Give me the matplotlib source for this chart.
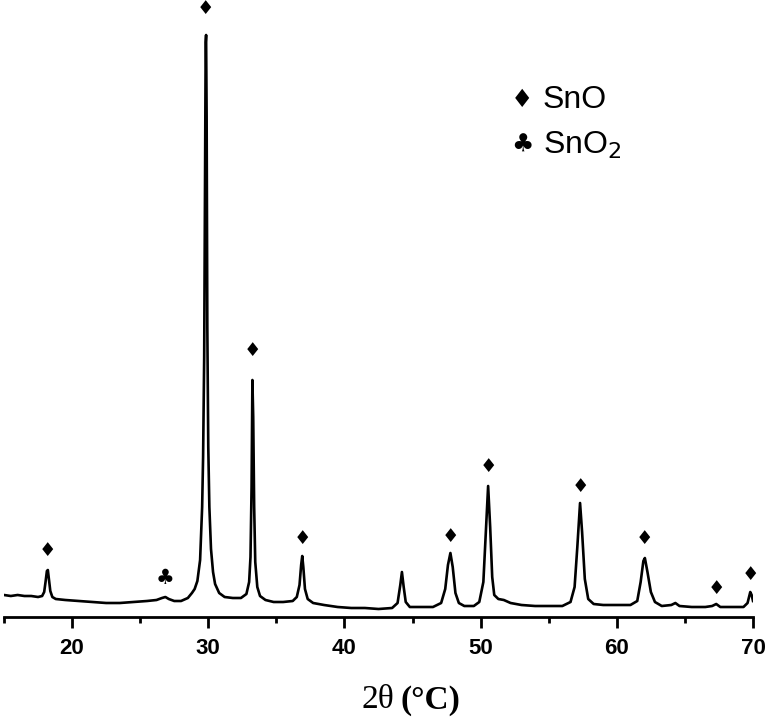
import numpy as np
import matplotlib
matplotlib.use('Agg')
import matplotlib.pyplot as plt

# XRD trace (2theta, intensity in arbitrary units)
two_theta = [15.0, 15.5, 16.0, 16.5, 17.0, 17.5, 17.8, 17.95, 18.05, 18.15, 18.22, 18.3, 18.4, 18.55, 18.8,
             19.5, 20.5, 21.5, 22.5, 23.5, 24.5, 25.5, 26.2, 26.6, 26.85, 27.1, 27.5, 28.0, 28.5, 28.8,
             29.0, 29.2, 29.4, 29.55, 29.62, 29.7, 29.76, 29.81, 29.84, 29.88, 29.93, 30.0, 30.08, 30.2,
             30.35, 30.5, 30.8, 31.2, 31.8, 32.4, 32.8, 33.0, 33.1, 33.18, 33.24, 33.3, 33.37, 33.45, 33.6,
             33.8, 34.2, 34.8, 35.5, 36.2, 36.5, 36.7, 36.82, 36.9, 36.98, 37.1, 37.3, 37.7, 38.5, 39.5,
             40.5, 41.5, 42.5, 43.5, 43.9, 44.1, 44.22, 44.35, 44.5, 44.8, 45.5, 46.5, 47.1, 47.4, 47.6,
             47.78, 47.95, 48.15, 48.4, 48.8, 49.5, 49.9, 50.2, 50.4, 50.55, 50.7, 50.85, 51.0, 51.3, 51.7,
             52.2, 53.0, 54.0, 55.0, 56.0, 56.6, 56.9, 57.1, 57.3, 57.45, 57.65, 57.9, 58.3, 59.0, 60.0,
             61.0, 61.5, 61.75, 61.95, 62.06, 62.25, 62.5, 62.8, 63.3, 64.0, 64.3, 64.6, 65.5, 66.5, 67.0,
             67.3, 67.6, 68.5, 69.3, 69.6, 69.8, 69.9, 70.0]
intensity = [22, 21, 22, 21, 21, 20, 21, 25, 35, 46, 47, 38, 26, 20, 18,
             17, 16, 15, 14, 14, 15, 16, 17, 19, 20, 18, 16, 16, 19, 24,
             28, 36, 57, 110, 160, 260, 420, 575, 582, 500, 290, 170, 110, 68,
             45, 33, 24, 20, 19, 19, 23, 35, 60, 130, 237, 200, 110, 55, 30,
             21, 17, 15, 15, 16, 20, 32, 52, 61, 50, 28, 18, 14, 12, 10,
             9, 9, 8, 9, 14, 32, 45, 30, 15, 10, 10, 10, 14, 28, 52,
             64, 50, 24, 14, 11, 11, 15, 35, 90, 131, 90, 40, 22, 18, 17,
             14, 12, 11, 11, 11, 15, 30, 70, 114, 85, 38, 18, 13, 12, 12,
             12, 16, 35, 56, 59, 45, 25, 15, 11, 12, 14, 11, 10, 10, 11,
             13, 10, 10, 10, 14, 25, 22, 16]

# phase markers above the peaks
sno_pos = [18.2, 29.83, 33.24, 36.9, 47.78, 50.55, 57.3, 62.06, 67.3, 69.8]
sno_lvl = [66, 609, 267, 79, 80, 151, 130, 79, 28, 43]
sno2_pos = [26.8]
sno2_lvl = [39]

fig = plt.figure(figsize=(7.68, 7.19), dpi=100)
ax = fig.add_axes([4/768, (719-617)/719, (753-4)/768, 617/719])
ax.plot(two_theta, intensity, color='black', lw=1.9, solid_joinstyle='round')
ax.set_xlim(15, 70)
ax.set_ylim(0, 617)

for s in ['top', 'left', 'right']:
    ax.spines[s].set_visible(False)
ax.spines['bottom'].set_linewidth(2)
ax.set_yticks([])
ax.set_xticks([20, 30, 40, 50, 60, 70])
ax.set_xticks([15, 25, 35, 45, 55, 65], minor=True)
ax.tick_params(axis='x', which='major', length=8, width=2, pad=7)
ax.tick_params(axis='x', which='minor', length=4, width=2)
for lab in ax.get_xticklabels():
    lab.set_fontfamily('Liberation Sans')
    lab.set_fontweight('bold')
    lab.set_fontsize(16)

for x, y in zip(sno_pos, sno_lvl):
    ax.text(x, y, '\u2666', ha='center', va='center', fontsize=14,
            family='DejaVu Sans', clip_on=False)
for x, y in zip(sno2_pos, sno2_lvl):
    ax.text(x, y, '\u2663', ha='center', va='center', fontsize=15,
            family='DejaVu Sans', clip_on=False)

# legend drawn as text
fig.text(522/768, 1 - 100/719, '\u2666', ha='center', va='center', fontsize=18, family='DejaVu Sans')
fig.text(522/768, 1 - 145/719, '\u2663', ha='center', va='center', fontsize=18, family='DejaVu Sans')
fig.text(543/768, 1 - 100/719, 'SnO', ha='left', va='center', fontsize=23, family='Liberation Sans')
fig.text(543/768, 1 - 145/719, 'SnO$_2$', ha='left', va='center', fontsize=23, family='Liberation Sans')

# x label: "2θ" plain, "(°C)" bold
fig.text(394/768, 1 - 700/719, '2\u03b8', ha='right', va='center', fontsize=24,
         family='Liberation Serif')
fig.text(401/768, 1 - 700/719, '(\u00b0C)', ha='left', va='center', fontsize=24,
         family='Liberation Serif', fontweight='bold')

fig.savefig('out.png', dpi=100)
